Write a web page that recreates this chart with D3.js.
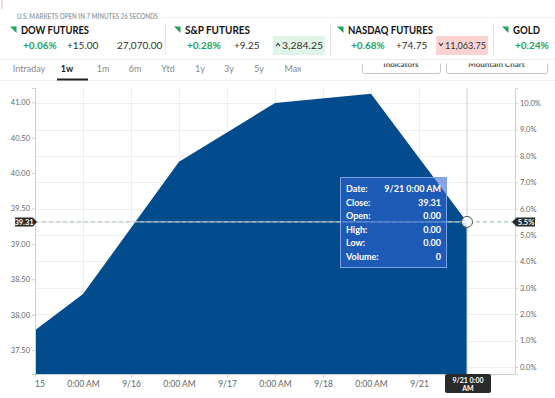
<!DOCTYPE html>
<html><head><meta charset="utf-8">
<script src="https://cdn.jsdelivr.net/npm/d3@7"></script>
<style>
html,body{margin:0;padding:0;background:#fff;}
svg{display:block;font-family:Lato,"Open Sans",sans-serif;}
</style></head>
<body><svg id="c" width="555" height="398"></svg>
<script>
// ---- data ----
const pointIdx = [0, 1, 3, 5, 7, 9];
const closes = [37.78, 38.29, 40.16, 40.99, 41.12, 39.31];
const xTickLabels = ["9/15","0:00 AM","9/16","0:00 AM","9/17","0:00 AM","9/18","0:00 AM","9/21"];
const yTicks = [37.5, 38, 38.5, 39, 39.5, 40, 40.5, 41];
const pctTicks = [0,1,2,3,4,5,6,7,8,9,10];
const baseClose = 37.261;
const lastClose = 39.31;
const lastPctLabel = "5.5%";
const crossDate = "9/21 0:00 AM";
const tipLabels = ["Date:","Close:","Open:","High:","Low:","Volume:"];
const tipValues = ["9/21 0:00 AM","39.31","0.00","0.00","0.00","0"];
const quoteNames = ["DOW FUTURES","S&P FUTURES","NASDAQ FUTURES","GOLD"];
const quotePct = ["+0.06%","+0.28%","+0.68%","+0.24%"];
const quoteChg = ["+15.00","+9.25","+74.75",""];
const quoteLast = ["27,070.00","3,284.25","11,063.75",""];
const quoteDir = ["none","up","down","none"];
const tabs = ["Intraday","1w","1m","6m","Ytd","1y","3y","5y","Max"];
const activeTab = "1w";
const buttons = ["Indicators","Mountain Chart"];
const banner = "U.S. MARKETS OPEN IN 7 MINUTES 26 SECONDS";

// ---- layout ----
const svg = d3.select("#c");
const L = 35, R = 515, T = 88, B = 374;
const x = d3.scaleLinear().domain([0, 10]).range([L, R]);
const y = d3.scaleLinear().domain([37.161, 41.202]).range([B, T]);
const yp = d3.scaleLinear()
  .domain([(37.161/baseClose - 1)*100, (41.202/baseClose - 1)*100]).range([B, T]);
const GREEN = "#1fa159", AREA = "#024b8d";

// ---- buttons (partially hidden behind header) ----
const btnX = [[362, 440], [446, 547]];
buttons.forEach((b, i) => {
  svg.append("rect").attr("x", btnX[i][0]+0.5).attr("y", 48.5)
    .attr("width", btnX[i][1]-btnX[i][0]).attr("height", 25).attr("rx", 2)
    .attr("fill", "#fff").attr("stroke", "#c8c8c8");
  svg.append("text").attr("x", (btnX[i][0]+btnX[i][1])/2).attr("y", 66.5)
    .attr("text-anchor", "middle").attr("font-size", 8).attr("font-weight", 700)
    .attr("fill", "#555").text(b);
});
svg.append("rect").attr("x", 0).attr("y", 0).attr("width", 555).attr("height", 63.5).attr("fill", "#fff");

// ---- header ----
svg.append("line").attr("x1", 2).attr("x2", 2).attr("y1", 0).attr("y2", 9)
  .attr("stroke", "#f3b3b3").attr("stroke-width", 1);
svg.append("text").attr("x", 17).attr("y", 18.5).attr("font-size", 6.5).attr("font-weight", 700)
  .attr("fill", "#9aa3a8").attr("textLength", 141).attr("lengthAdjust", "spacingAndGlyphs").text(banner);
svg.append("line").attr("x1", 160).attr("x2", 555).attr("y1", 17.5).attr("y2", 17.5).attr("stroke", "#f0f0f0");
svg.append("line").attr("x1", 0).attr("x2", 555).attr("y1", 59.5).attr("y2", 59.5).attr("stroke", "#eeeeee");

const qx = [10, 174, 337, 502];        // triangle left
const qDiv = [165.5, 330.5, 493.5];
qDiv.forEach(d => svg.append("line").attr("x1", d).attr("x2", d).attr("y1", 23).attr("y2", 55).attr("stroke", "#e6e6e6"));
const nameW = [68, 65, 85, 27];
const pctX = [23, 187, 351, 515];
const chgX = [67, 234, 396];
const lastBox = [null, [273, 325], [436, 488], null];
quoteNames.forEach((n, i) => {
  const tx = qx[i];
  svg.append("path").attr("d", `M${tx},26.5 L${tx+6.5},26.5 L${tx+6.5},33 Z`).attr("fill", GREEN);
  svg.append("text").attr("x", tx+11).attr("y", 34).attr("font-size", 11).attr("font-weight", 700)
    .attr("fill", "#111").attr("textLength", nameW[i]).attr("lengthAdjust", "spacingAndGlyphs").text(n);
  svg.append("text").attr("x", pctX[i]).attr("y", 48.5).attr("font-size", 10).attr("font-weight", 700)
    .attr("fill", GREEN).text(quotePct[i]);
  if (quoteChg[i]) svg.append("text").attr("x", chgX[i]).attr("y", 48.5).attr("font-size", 10)
    .attr("fill", "#333").text(quoteChg[i]);
  if (quoteLast[i]) {
    if (lastBox[i]) {
      const [a, b2] = lastBox[i];
      svg.append("rect").attr("x", a).attr("y", 36).attr("width", b2-a).attr("height", 19)
        .attr("fill", quoteDir[i] === "up" ? "#e0f5e7" : "#fbd3d3");
      const cy = 44.5;
      svg.append("path").attr("d", quoteDir[i] === "up"
          ? `M${a+3},${cy+1.5} L${a+5},${cy-1} L${a+7},${cy+1.5}`
          : `M${a+3},${cy-1.5} L${a+5},${cy+1} L${a+7},${cy-1.5}`)
        .attr("fill", "none").attr("stroke", "#333").attr("stroke-width", 1.1);
      svg.append("text").attr("x", a+9).attr("y", 48.5).attr("font-size", 10).attr("fill", "#333")
        .attr("textLength", b2-a-11).attr("lengthAdjust", "spacingAndGlyphs").text(quoteLast[i]);
    } else {
      svg.append("text").attr("x", 117).attr("y", 48.5).attr("font-size", 10).attr("fill", "#333").text(quoteLast[i]);
    }
  }
});

// ---- tabs ----
const tabCx = [29, 67, 103, 135, 168, 200, 229, 259, 293];
tabs.forEach((t, i) => {
  svg.append("text").attr("x", tabCx[i]).attr("y", 72).attr("text-anchor", "middle")
    .attr("font-size", 9).attr("font-weight", t === activeTab ? 700 : 400)
    .attr("fill", t === activeTab ? "#222" : "#8a8a8a").text(t);
});
svg.append("line").attr("x1", 0).attr("x2", 555).attr("y1", 80.5).attr("y2", 80.5).attr("stroke", "#eeeeee");
svg.append("line").attr("x1", 57).attr("x2", 88).attr("y1", 79.5).attr("y2", 79.5).attr("stroke", "#222").attr("stroke-width", 2);

// ---- grid ----
const g = svg.append("g");
g.selectAll(".hg").data(pctTicks).join("line")
  .attr("x1", L).attr("x2", R).attr("y1", d => Math.round(yp(d))+0.5).attr("y2", d => Math.round(yp(d))+0.5)
  .attr("stroke", "#eeeeee");
g.selectAll(".vg").data(d3.range(1, 9)).join("line")
  .attr("x1", d => Math.round(x(d))+0.5).attr("x2", d => Math.round(x(d))+0.5).attr("y1", T).attr("y2", B)
  .attr("stroke", "#eeeeee");

// ---- area ----
const pts = pointIdx.map((d, i) => [d, closes[i]]);
svg.append("path").datum(pts)
  .attr("d", d3.area().x(d => x(d[0])).y0(B).y1(d => y(d[1])))
  .attr("fill", AREA);

// ---- axes ----
const yAxis = svg.append("g").attr("transform", `translate(${L},0)`)
  .call(d3.axisLeft(y).tickValues(yTicks).tickFormat(d3.format(".2f")).tickSize(3).tickPadding(2));
const yAxisR = svg.append("g").attr("transform", `translate(${R},0)`)
  .call(d3.axisRight(yp).tickValues(pctTicks).tickFormat(d => d.toFixed(1) + "%").tickSize(3).tickPadding(2));
svg.append("clipPath").attr("id", "xc").append("rect").attr("x", L).attr("y", -2).attr("width", 480).attr("height", 26);
const xAxis = svg.append("g").attr("transform", `translate(0,${B})`).attr("clip-path", "url(#xc)")
  .call(d3.axisBottom(x).tickValues(d3.range(0, 9)).tickFormat(i => xTickLabels[i]).tickSize(3).tickPadding(4));
[yAxis, yAxisR, xAxis].forEach(a => {
  a.selectAll(".domain").attr("stroke", "#cfcfcf");
  a.selectAll(".tick line").attr("stroke", "#cfcfcf");
  a.selectAll("text").attr("fill", "#666").attr("font-family", "Lato, sans-serif");
});
yAxis.selectAll("text").attr("font-size", 7.5);
yAxisR.selectAll("text").attr("font-size", 7.5);
xAxis.selectAll("text").attr("font-size", 8.5);
xAxis.select(".domain").attr("d", `M${L},0.5H${R}`);

// ---- crosshair ----
const cx = x(9), cy = y(lastClose);
svg.append("line").attr("x1", cx).attr("x2", cx).attr("y1", T).attr("y2", B).attr("stroke", "#c9d3e0");
svg.append("line").attr("x1", L).attr("x2", R).attr("y1", cy).attr("y2", cy)
  .attr("stroke", "#8fb0a6").attr("stroke-dasharray", "4,3");
svg.append("line").attr("x1", L).attr("x2", cx).attr("y1", cy).attr("y2", cy)
  .attr("stroke", "#d9dde3").attr("stroke-opacity", 0.9);

// tooltip
const tip = svg.append("g");
tip.append("rect").attr("x", 340.5).attr("y", 177.5).attr("width", 106).attr("height", 90)
  .attr("fill", "rgba(52,104,212,0.58)").attr("stroke", "#7aa2ea");
tipLabels.forEach((t, i) => {
  const by = 192 + i*13.6;
  tip.append("text").attr("x", 346).attr("y", by).attr("font-size", 9).attr("font-weight", 700)
    .attr("fill", "#fff").text(t);
  tip.append("text").attr("x", 441).attr("y", by).attr("font-size", 9).attr("font-weight", 700)
    .attr("text-anchor", "end").attr("fill", "#fff").text(tipValues[i]);
});

svg.append("circle").attr("cx", cx).attr("cy", cy).attr("r", 5.5)
  .attr("fill", "rgba(255,255,255,0.85)").attr("stroke", "#555").attr("stroke-width", 1);

// left price label
svg.append("path").attr("d", `M15,${cy-4.5} H33 L37,${cy} L33,${cy+4.5} H15 Z`).attr("fill", "#2a2a2a");
svg.append("text").attr("x", 24).attr("y", cy+2.6).attr("text-anchor", "middle").attr("font-size", 7.5)
  .attr("font-weight", 700).attr("fill", "#fff").text(lastClose.toFixed(2));
// right pct label
svg.append("path").attr("d", `M512,${cy} L516.5,${cy-4.5} H535 V${cy+4.5} H516.5 Z`).attr("fill", "#2a2a2a");
svg.append("text").attr("x", 526).attr("y", cy+2.6).attr("text-anchor", "middle").attr("font-size", 7.5)
  .attr("font-weight", 700).attr("fill", "#fff").text(lastPctLabel);
// bottom date label
svg.append("rect").attr("x", 445).attr("y", 374).attr("width", 46).attr("height", 19).attr("rx", 2).attr("fill", "#2a2a2a");
const dl = svg.append("text").attr("text-anchor", "middle").attr("font-size", 7).attr("font-weight", 700).attr("fill", "#fff");
const parts = [crossDate.split(" ").slice(0, 2).join(" "), crossDate.split(" ")[2]];
dl.append("tspan").attr("x", 468).attr("y", 382.5).text(parts[0]);
dl.append("tspan").attr("x", 468).attr("y", 391).text(parts[1]);
</script></body></html>
